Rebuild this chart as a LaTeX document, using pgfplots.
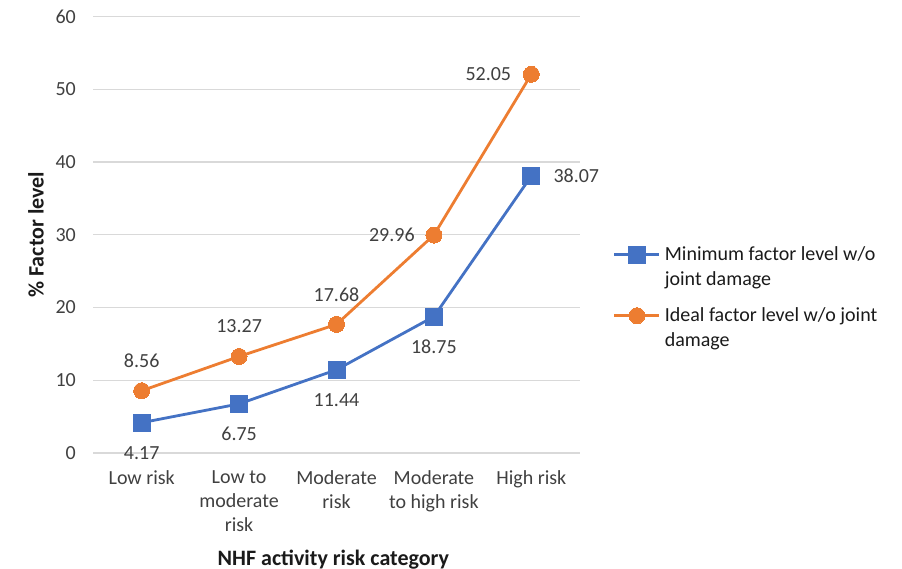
\documentclass[border=0pt]{standalone}
\usepackage{fontspec}
\setmainfont{Carlito}
\usepackage{pgfplots}
\pgfplotsset{compat=1.18}
\usepackage{pgfplotstable}

\definecolor{minblue}{HTML}{4472C4}
\definecolor{idealorange}{HTML}{ED7D31}
\definecolor{labelgray}{HTML}{404040}
\definecolor{gridgray}{HTML}{D9D9D9}
\definecolor{titletext}{HTML}{1A1A1A}

% x = risk category index, y = factor level, dx/dy = data label offset (pt)
\pgfplotstableread{
x y dx dy
0 4.17 0 -30
1 6.75 0 -30
2 11.44 0 -30
3 18.75 0 -30
4 38.07 45 0
}\minlevel

\pgfplotstableread{
x y dx dy
0 8.56 0 30
1 13.27 0 30
2 17.68 0 30
3 29.96 -42 0
4 52.05 -43 0
}\ideallevel

\newcommand{\chartfont}{\fontsize{20}{24.4}\selectfont}
\newcommand{\titlefont}{\fontsize{22}{26}\selectfont\bfseries}

\begin{document}
\begin{tikzpicture}
\useasboundingbox (0,0) rectangle (902pt,569pt);
\begin{axis}[
  at={(93pt,116pt)}, anchor=south west,
  scale only axis,
  width=487pt, height=436.5pt,
  xmin=-0.5, xmax=4.5,
  ymin=0, ymax=60,
  ytick={0,10,...,60},
  xtick={0,1,2,3,4},
  xticklabels={Low risk, {Low to\\moderate\\risk}, {Moderate\\risk}, {Moderate\\to high risk}, High risk},
  axis line style={draw=none},
  major tick length=0pt,
  ymajorgrids,
  grid style={gridgray, line width=1.4pt},
  /pgf/number format/assume math mode=true,
  tick label style={font=\chartfont, text=labelgray},
  yticklabel style={anchor=east, inner sep=0pt, xshift=-17pt},
  xticklabel style={anchor=north, align=center, inner sep=0pt, yshift=-17pt},
  xlabel={NHF activity risk category},
  ylabel={\% Factor level},
  xlabel style={font=\titlefont, text=titletext, at={(axis description cs:0.4935,-0.2566)}, anchor=base},
  ylabel style={font=\titlefont, text=titletext, at={(axis description cs:-0.1016,0.5)}, anchor=base, rotate=0},
  legend style={draw=none, fill=none, inner sep=0pt, outer sep=0pt,
    at={(axis description cs:1.0678,0.4765)}, anchor=north west,
    row sep=17pt, column sep=2pt,
    font=\chartfont, text=titletext,
    cells={align=left, inner sep=0pt}},
  legend cell align=left,
  legend image code/.code={
    \draw[mark repeat=2, mark phase=2] plot coordinates {(0pt,12pt) (22.5pt,12pt) (45pt,12pt)};
  },
  nodes near coords,
  every node near coord/.append style={font=\chartfont, text=labelgray, anchor=center, inner sep=0pt, xshift=\ldx pt, yshift=\ldy pt},
  visualization depends on={\thisrow{dx} \as \ldx},
  visualization depends on={\thisrow{dy} \as \ldy},
]
\addplot[color=minblue, line width=2.8pt, mark=square*, mark size=8.5pt,
  mark options={solid, fill=minblue, draw=minblue, line width=0pt}]
  table[x=x, y=y] {\minlevel};
\addlegendentry{Minimum factor level w/o\\joint damage}
\addplot[color=idealorange, line width=2.8pt, mark=*, mark size=8pt,
  mark options={solid, fill=idealorange, draw=idealorange, line width=0pt}]
  table[x=x, y=y] {\ideallevel};
\addlegendentry{Ideal factor level w/o joint\\damage}
\end{axis}
\end{tikzpicture}
\end{document}
